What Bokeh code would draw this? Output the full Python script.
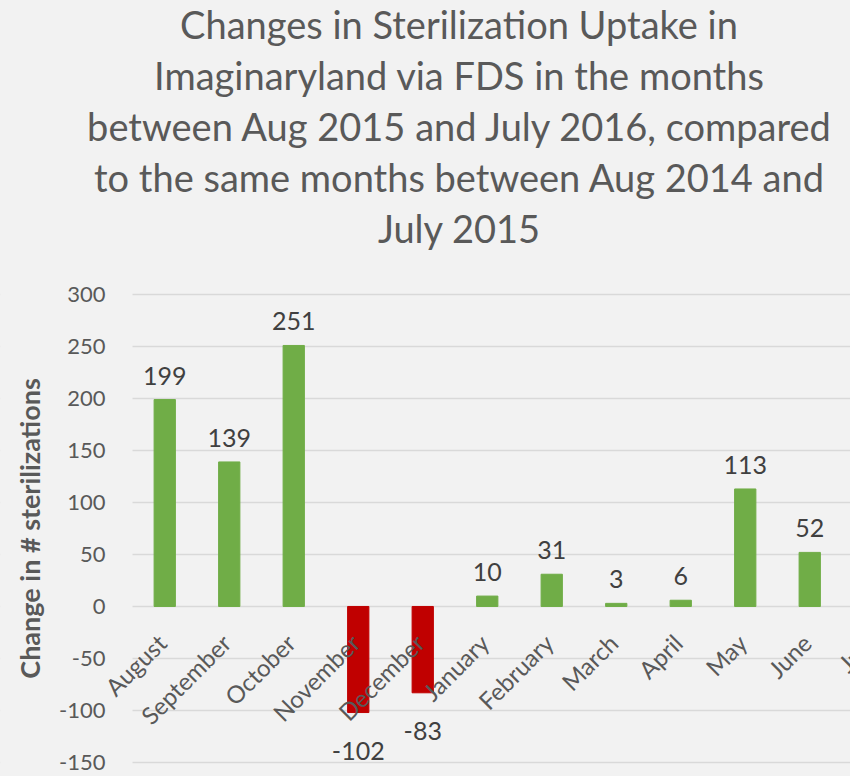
import math
from bokeh.plotting import figure
from bokeh.models import (ColumnDataSource, Range1d, FixedTicker, Div, Label,
                          BoxAnnotation)
from bokeh.layouts import column
from bokeh.embed import file_html
from bokeh.resources import INLINE
from bokeh.core.properties import value

# July's bar lies beyond the right edge of the reference picture; only its label shows
months = ["August", "September", "October", "November", "December", "January",
          "February", "March", "April", "May", "June", "July"]
changes = [199, 139, 251, -102, -83, 10, 31, 3, 6, 113, 52]
y_ticks = [-150, -100, -50, 0, 50, 100, 150, 200, 250, 300]
title_lines = ["Changes in Sterilization Uptake in",
               "Imaginaryland via FDS in the months",
               "between Aug 2015 and July 2016, compared",
               "to the same months between Aug 2014 and",
               "July 2015"]
y_label = "Change in # sterilizations"

BG = "#f2f2f2"
FONT = "Lato"

xs = list(range(len(changes)))
label_xs = list(range(len(months)))
colors = ["#70ad47" if v >= 0 else "#c00000" for v in changes]
source = ColumnDataSource(dict(x=xs, y=changes, color=colors))
pos = ColumnDataSource(dict(x=[x for x, v in zip(xs, changes) if v >= 0],
                            y=[v for v in changes if v >= 0],
                            label=[str(v) for v in changes if v >= 0]))
neg = ColumnDataSource(dict(x=[x for x, v in zip(xs, changes) if v < 0],
                            y=[v for v in changes if v < 0],
                            label=[str(v) for v in changes if v < 0]))

# the plotting frame covers the whole figure; the category area starts at x=-0.5
p = figure(width=850, height=516, output_backend="svg", toolbar_location=None,
           x_range=Range1d(-2.5465, 10.632), y_range=Range1d(-163.5, 332.7),
           min_border_left=0, min_border_right=0, min_border_top=0,
           min_border_bottom=0)
p.background_fill_color = BG
p.border_fill_color = BG
p.outline_line_color = None

# keep gridlines to the category area only
p.add_layout(BoxAnnotation(right=-0.5, fill_color=BG, fill_alpha=1.0,
                           line_alpha=0, level="underlay"))

p.vbar(x="x", top="y", bottom=0, width=0.33, color="color", source=source)

p.text(x="x", y="y", text="label", source=pos, text_align="center",
       text_baseline="alphabetic", y_offset=-24, text_font=value(FONT),
       text_font_size="25px", text_color="#404040")
p.text(x="x", y="y", text="label", source=neg, text_align="center",
       text_baseline="alphabetic", y_offset=38, text_font=value(FONT),
       text_font_size="25px", text_color="#404040")

# month labels along the zero line
for xi, m in zip(label_xs, months):
    p.add_layout(Label(x=xi, y=0, text=m, angle=math.pi / 4,
                       text_align="right", text_baseline="middle",
                       x_offset=-3, y_offset=-32, text_font=FONT,
                       text_font_size="24px", text_color="#595959"))

p.xaxis.visible = False

ya = p.yaxis[0]
ya.fixed_location = -0.5
ya.bounds = (-150, 300)
ya.ticker = FixedTicker(ticks=y_ticks)
ya.major_label_overrides = {t: str(t) for t in y_ticks}
ya.major_tick_line_color = None
ya.minor_tick_line_color = None
ya.axis_line_color = None
ya.major_label_standoff = 21
ya.major_label_text_font = FONT
ya.major_label_text_font_size = "22px"
ya.major_label_text_color = "#595959"
ya.axis_label = y_label
ya.axis_label_standoff = 10
ya.axis_label_text_font = FONT
ya.axis_label_text_font_size = "27px"
ya.axis_label_text_font_style = "bold"
ya.axis_label_text_color = "#595959"

p.xgrid.grid_line_color = None
p.ygrid.ticker = FixedTicker(ticks=y_ticks)
p.ygrid.grid_line_color = "#d9d9d9"
p.ygrid.grid_line_width = 1.5

title_html = ('<div style="width:782px;margin-left:68px;margin-top:-1px;'
              'text-align:center;font-family:Lato;font-size:38px;'
              'line-height:51px;color:#595959;white-space:nowrap;">'
              + "<br>".join(title_lines) + "</div>")
div = Div(text=title_html, width=850, height=260, margin=(0, 0, 0, 0))

layout = column(div, p, spacing=0)
html = file_html(layout, INLINE)
html = html.replace("</head>",
                    "<style>html, body { background: #f2f2f2; overflow: hidden; }</style></head>", 1)
open("out.html", "w").write(html)
